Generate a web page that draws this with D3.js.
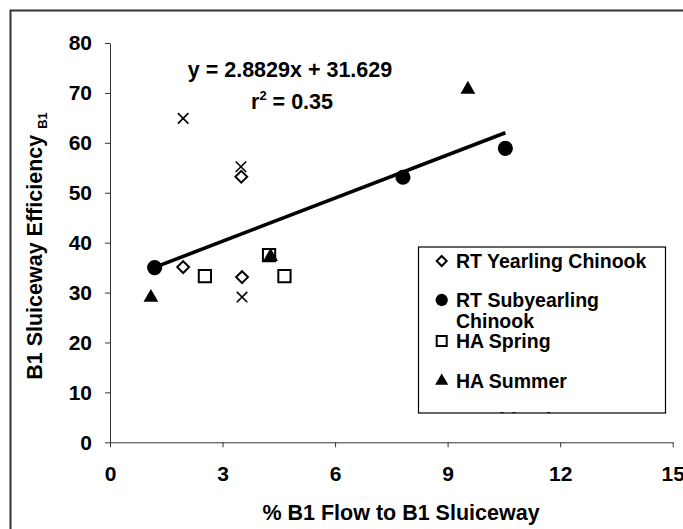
<!DOCTYPE html>
<html>
<head>
<meta charset="utf-8">
<script src="https://cdn.jsdelivr.net/npm/d3@7"></script>
<style>
  html, body { margin: 0; padding: 0; background: #fff; }
  svg { display: block; font-family: "Liberation Sans", Arial, sans-serif; font-weight: bold; }
</style>
</head>
<body>
<svg id="chart" width="683" height="529"></svg>
<script>
// Sluiceway efficiency vs. share of B1 flow routed to the sluiceway
const seriesNames = ["RT Yearling Chinook", "RT Subyearling Chinook", "HA Spring", "HA Summer", "Combined"];
const rtYearlingX = [1.95, 3.5, 3.52];
const rtYearlingY = [35.1, 53.2, 33.1];
const rtSubyearlingX = [1.19, 7.81, 10.54];
const rtSubyearlingY = [35.0, 53.1, 58.9];
const haSpringX = [2.53, 4.65, 4.24];
const haSpringY = [33.3, 33.3, 37.5];
const haSummerX = [1.09, 4.28, 9.54];
const haSummerY = [29.0, 37.2, 70.7];
const combinedX = [1.95, 3.49, 3.52];
const combinedY = [64.9, 55.2, 29.1];
const xTicks = [0, 3, 6, 9, 12, 15];
const yTicks = [0, 10, 20, 30, 40, 50, 60, 70, 80];
const trendSlope = 2.8829;
const trendIntercept = 31.629;
const trendR2 = 0.35;

const svg = d3.select("#chart");

// outer chart frame (runs off the right and bottom edges)
svg.append("path")
  .attr("d", "M10.5,540 V10.5 H700")
  .attr("fill", "none").attr("stroke", "#333").attr("stroke-width", 2);

const x = d3.scaleLinear().domain([0, 15]).range([110, 672.7]);
const y = d3.scaleLinear().domain([0, 80]).range([442.3, 43]);

// axes
const gx = svg.append("g").attr("transform", `translate(0,${y(0)})`)
  .call(d3.axisBottom(x).tickValues(xTicks).tickSize(5).tickPadding(19).tickSizeOuter(0));
const gy = svg.append("g").attr("transform", `translate(${x(0)},0)`)
  .call(d3.axisLeft(y).tickValues(yTicks).tickSize(5).tickPadding(13).tickSizeOuter(0));
[gx, gy].forEach(g => {
  g.select(".domain").attr("stroke", "#333");
  g.selectAll(".tick line").attr("stroke", "#333");
  g.selectAll(".tick text")
    .attr("font-family", "'Liberation Sans', Arial, sans-serif")
    .attr("font-weight", "bold").attr("font-size", 21).attr("fill", "#000");
});

// axis titles
svg.append("text")
  .attr("x", 401).attr("y", 520).attr("text-anchor", "middle")
  .attr("font-size", 21.5).text("% B1 Flow to B1 Sluiceway");

const yTitle = svg.append("text")
  .attr("transform", "translate(42,246) rotate(-90)")
  .attr("text-anchor", "middle").attr("font-size", 21.5);
yTitle.append("tspan").text("B1 Sluiceway Efficiency ");
yTitle.append("tspan").attr("font-size", 13).attr("dy", 5).text("B1");

// custom marker shapes
const diamondShape = {
  draw(ctx, size) {
    const r = Math.sqrt(size / 2);
    ctx.moveTo(0, -r); ctx.lineTo(r, 0); ctx.lineTo(0, r); ctx.lineTo(-r, 0); ctx.closePath();
  }
};
const timesShape = {
  draw(ctx, size) {
    const r = Math.sqrt(size) / 2;
    ctx.moveTo(-r, -r); ctx.lineTo(r, r);
    ctx.moveTo(r, -r); ctx.lineTo(-r, r);
  }
};

const series = [
  { xs: rtYearlingX, ys: rtYearlingY, type: diamondShape, size: 70, fill: "none", stroke: "#000", sw: 2, lsize: 50 },
  { xs: rtSubyearlingX, ys: rtSubyearlingY, type: d3.symbolCircle, size: 180, fill: "#000", stroke: "none", sw: 0, lsize: 120 },
  { xs: haSpringX, ys: haSpringY, type: d3.symbolSquare, size: 150, fill: "none", stroke: "#000", sw: 2, lsize: 100 },
  { xs: haSummerX, ys: haSummerY, type: d3.symbolTriangle, size: 95, fill: "#000", stroke: "none", sw: 0, lsize: 75 },
  { xs: combinedX, ys: combinedY, type: timesShape, size: 110, fill: "none", stroke: "#000", sw: 1.6, lsize: 90 }
];

// fitted trend line over the subyearling flow range
const trendExtent = d3.extent(rtSubyearlingX);
const trend = d3.line().x(d => x(d)).y(d => y(trendSlope * d + trendIntercept));
svg.append("path")
  .attr("d", trend(trendExtent))
  .attr("fill", "none").attr("stroke", "#000").attr("stroke-width", 3.6);

// scatter points
series.forEach(s => {
  svg.append("g").selectAll("path")
    .data(s.xs.map((v, i) => [v, s.ys[i]]))
    .join("path")
    .attr("transform", d => `translate(${x(d[0])},${y(d[1])})`)
    .attr("d", d3.symbol().type(s.type).size(s.size))
    .attr("fill", s.fill).attr("stroke", s.stroke).attr("stroke-width", s.sw);
});

// regression annotation
svg.append("text").attr("x", 290).attr("y", 77).attr("text-anchor", "middle")
  .attr("font-size", 21.5)
  .text(`y = ${trendSlope}x + ${trendIntercept}`);
const r2 = svg.append("text").attr("x", 292).attr("y", 109).attr("text-anchor", "middle")
  .attr("font-size", 21.5);
r2.append("tspan").text("r");
r2.append("tspan").attr("font-size", 13).attr("dy", -9).text("2");
r2.append("tspan").attr("dy", 9).text(` = ${trendR2.toFixed(2)}`);

// legend (box clips its last entry)
const lg = { x: 418.5, y: 247, w: 247, h: 166 };
svg.append("defs").append("clipPath").attr("id", "legendClip")
  .append("rect").attr("x", lg.x).attr("y", lg.y).attr("width", lg.w).attr("height", lg.h);
svg.append("rect").attr("x", lg.x).attr("y", lg.y).attr("width", lg.w).attr("height", lg.h)
  .attr("fill", "#fff").attr("stroke", "#000").attr("stroke-width", 1.2);
const legend = svg.append("g").attr("clip-path", "url(#legendClip)");
const legendRows = [
  { lines: ["RT Yearling Chinook"], cy: 261 },
  { lines: ["RT Subyearling", "Chinook"], cy: 300 },
  { lines: ["HA Spring"], cy: 341 },
  { lines: ["HA Summer"], cy: 381 },
  { lines: ["Combined"], cy: 420 }
];
legendRows.forEach((row, i) => {
  const s = series[i];
  legend.append("path")
    .attr("transform", `translate(441.7,${row.cy})`)
    .attr("d", d3.symbol().type(s.type).size(s.lsize))
    .attr("fill", s.fill).attr("stroke", s.stroke).attr("stroke-width", s.sw);
  const t = legend.append("text").attr("x", 456).attr("y", row.cy + 6.5).attr("font-size", 19.5);
  row.lines.forEach((ln, j) => {
    t.append("tspan").attr("x", 456).attr("dy", j === 0 ? 0 : 21).text(ln);
  });
});
</script>
</body>
</html>
